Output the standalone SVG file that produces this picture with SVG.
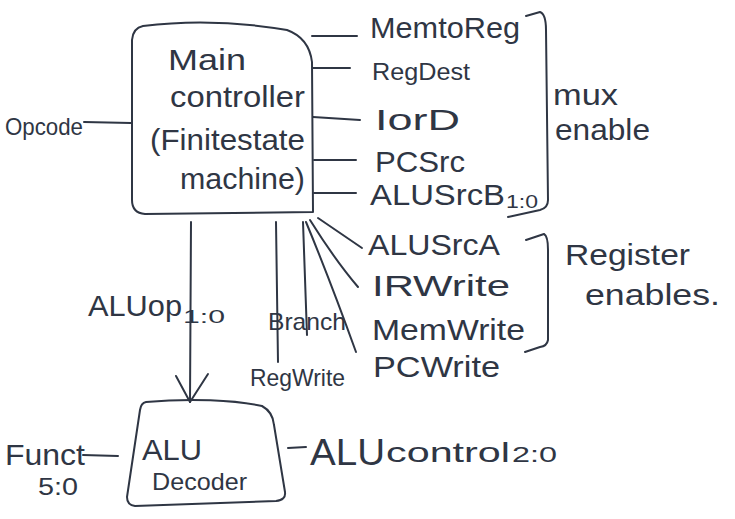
<svg xmlns="http://www.w3.org/2000/svg" width="735" height="519" viewBox="0 0 735 519">
  <style>
    .ink { fill: none; stroke: #2f3644; stroke-width: 2; stroke-linecap: round; stroke-linejoin: round; }
    .t { font-family: "Liberation Sans", "DejaVu Sans", sans-serif; fill: #2f3644; font-size: 30px; }
    .s { font-size: 18px; }
    .m { font-size: 24px; }
  </style>
  <rect width="735" height="519" fill="#ffffff"/>

  <!-- Main controller -->
  <g id="main-controller">
    <path class="ink" d="M143,26 C190,20 240,22 287,30 Q309,38 312,62 L313,212 L145,214 Q132,213 132,200 L132,40 Q133,28 143,26 Z"/>
    <text class="t" x="168" y="70" textLength="78" lengthAdjust="spacingAndGlyphs">Main</text>
    <text class="t" x="170" y="107" textLength="135" lengthAdjust="spacingAndGlyphs">controller</text>
    <text class="t" x="150" y="150" textLength="155" lengthAdjust="spacingAndGlyphs">(Finitestate</text>
    <text class="t" x="180" y="189" textLength="125" lengthAdjust="spacingAndGlyphs">machine)</text>
  </g>

  <!-- ALU decoder -->
  <g id="alu-decoder">
    <path class="ink" d="M146,402 C190,398 235,400 262,406 Q273,412 274,425 L285,492 Q286,500 276,501 L135,506 Q127,505 127,497 L140,410 Q141,403 146,402 Z"/>
    <text class="t" x="142" y="460" textLength="60" lengthAdjust="spacingAndGlyphs">ALU</text>
    <text class="t m" x="152" y="490" textLength="95" lengthAdjust="spacingAndGlyphs">Decoder</text>
  </g>

  <!-- Inputs -->
  <g id="opcode">
    <text class="t m" x="5" y="135" textLength="78" lengthAdjust="spacingAndGlyphs">Opcode</text>
  </g>
  <g id="funct">
    <text class="t" x="5" y="465" textLength="80" lengthAdjust="spacingAndGlyphs">Funct</text>
    <text class="t m" x="38" y="495" textLength="40" lengthAdjust="spacingAndGlyphs">5:0</text>
  </g>

  <!-- Output signal labels -->
  <g id="mux-signals">
    <text class="t" x="370" y="38" textLength="150" lengthAdjust="spacingAndGlyphs">MemtoReg</text>
    <text class="t m" x="372" y="80" textLength="98" lengthAdjust="spacingAndGlyphs">RegDest</text>
    <text class="t" x="375" y="130" textLength="85" lengthAdjust="spacingAndGlyphs">IorD</text>
    <text class="t" x="375" y="172" textLength="90" lengthAdjust="spacingAndGlyphs">PCSrc</text>
    <text class="t" x="370" y="205" textLength="135" lengthAdjust="spacingAndGlyphs">ALUSrcB</text>
    <text class="t s" x="506" y="208" textLength="32" lengthAdjust="spacingAndGlyphs">1:0</text>
  </g>
  <g id="mux-enable">
    <text class="t" x="553" y="105" textLength="65" lengthAdjust="spacingAndGlyphs">mux</text>
    <text class="t" x="555" y="140" textLength="95" lengthAdjust="spacingAndGlyphs">enable</text>
  </g>
  <g id="register-signals">
    <text class="t" x="368" y="255" textLength="132" lengthAdjust="spacingAndGlyphs">ALUSrcA</text>
    <text class="t" x="372" y="296" textLength="138" lengthAdjust="spacingAndGlyphs">IRWrite</text>
    <text class="t" x="372" y="340" textLength="153" lengthAdjust="spacingAndGlyphs">MemWrite</text>
    <text class="t" x="373" y="377" textLength="127" lengthAdjust="spacingAndGlyphs">PCWrite</text>
  </g>
  <g id="register-enables">
    <text class="t" x="565" y="265" textLength="125" lengthAdjust="spacingAndGlyphs">Register</text>
    <text class="t" x="585" y="305" textLength="135" lengthAdjust="spacingAndGlyphs">enables.</text>
  </g>
  <g id="alu-signals">
    <text class="t" x="88" y="316" textLength="94" lengthAdjust="spacingAndGlyphs">ALUop</text>
    <text class="t s" x="183" y="323" textLength="42" lengthAdjust="spacingAndGlyphs">1:0</text>
    <text class="t m" x="268" y="330" textLength="78" lengthAdjust="spacingAndGlyphs">Branch</text>
    <text class="t m" x="250" y="386" textLength="95" lengthAdjust="spacingAndGlyphs">RegWrite</text>
  </g>
  <g id="alu-control">
    <text class="t" x="310" y="465" style="font-size:36px" textLength="75" lengthAdjust="spacingAndGlyphs">ALU</text>
    <text class="t" x="386" y="462" style="font-size:28px" textLength="124" lengthAdjust="spacingAndGlyphs">control</text>
    <text class="t" x="512" y="462" style="font-size:22px" textLength="45" lengthAdjust="spacingAndGlyphs">2:0</text>
  </g>

  <!-- Connectors -->
  <g id="connectors">
    <path class="ink" d="M84,122 L131,123"/>
    <path class="ink" d="M83,455 L118,456"/>
    <path class="ink" d="M312,36 L357,36"/>
    <path class="ink" d="M313,68 L350,68"/>
    <path class="ink" d="M313,117 L360,120"/>
    <path class="ink" d="M314,160 L356,160"/>
    <path class="ink" d="M314,193 L356,193"/>
    <path class="ink" d="M288,448 L306,447"/>
    <!-- ALUOp into the decoder -->
    <path class="ink" d="M191,222 L190,402"/>
    <path class="ink" d="M176,376 L190,402 L208,374"/>
    <!-- signals leaving the bottom of the controller -->
    <path class="ink" d="M276,222 L278,362"/>
    <path class="ink" d="M303,222 L307,335"/>
    <path class="ink" d="M306,222 Q330,280 356,352"/>
    <path class="ink" d="M310,220 Q335,260 358,287"/>
    <path class="ink" d="M318,218 L362,248"/>
    <!-- grouping brackets -->
    <path class="ink" d="M526,16 L540,12 Q546,14 546,30 L548,200 Q548,208 540,210 L508,217"/>
    <path class="ink" d="M526,240 L544,234 Q548,236 548,250 L548,340 Q547,346 540,347 L525,352"/>
  </g>
</svg>
